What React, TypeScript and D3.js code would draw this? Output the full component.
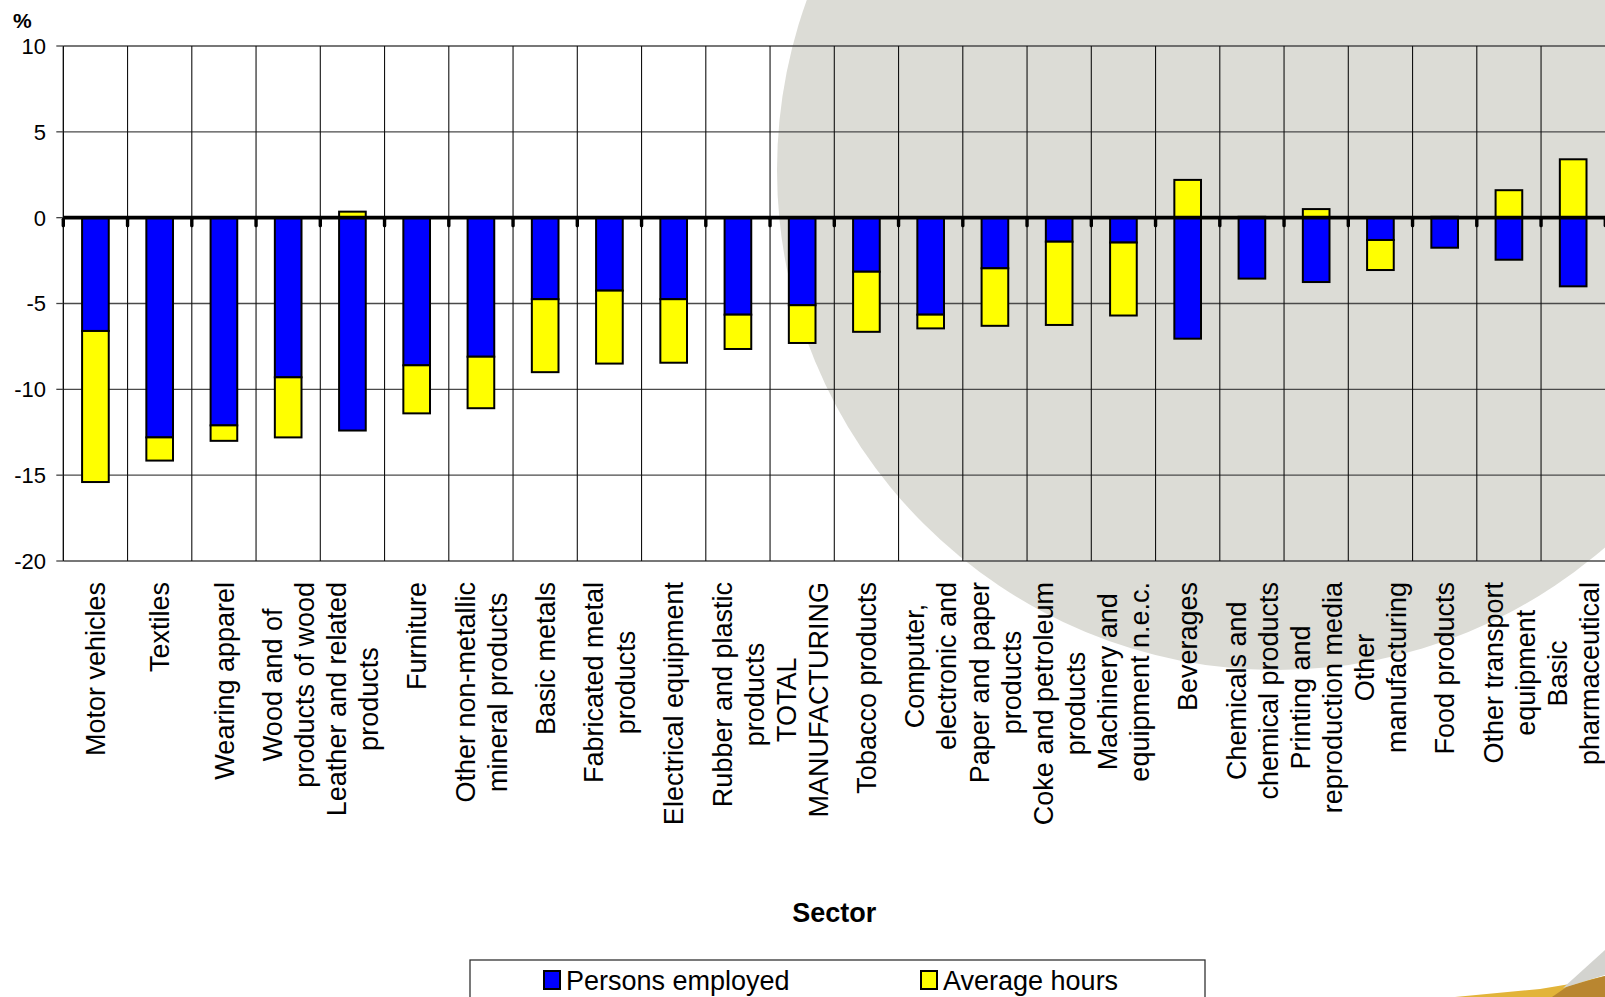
import React, { useEffect, useRef } from "react";
import * as d3 from "d3";

// Sector labels (line breaks marked with "|")
const sectors: string[] = [
  "Motor vehicles",
  "Textiles",
  "Wearing apparel",
  "Wood and of|products of wood",
  "Leather and related|products",
  "Furniture",
  "Other non-metallic|mineral products",
  "Basic metals",
  "Fabricated metal|products",
  "Electrical equipment",
  "Rubber and plastic|products",
  "TOTAL|MANUFACTURING",
  "Tobacco products",
  "Computer,|electronic and",
  "Paper and paper|products",
  "Coke and petroleum|products",
  "Machinery and|equipment n.e.c.",
  "Beverages",
  "Chemicals and|chemical products",
  "Printing and|reproduction media",
  "Other|manufacturing",
  "Food products",
  "Other transport|equipment",
  "Basic|pharmaceutical",
];

// Percentage change, persons employed
const personsEmployed: number[] = [
  -6.6, -12.8, -12.1, -9.3, -12.4, -8.6, -8.1, -4.75, -4.25, -4.75, -5.65, -5.1,
  -3.15, -5.65, -2.95, -1.4, -1.45, -7.05, -3.55, -3.75, -1.3, -1.75, -2.45, -4.0,
];

// Percentage change, average hours
const averageHours: number[] = [
  -8.8, -1.35, -0.9, -3.5, 0.35, -2.8, -3.0, -4.25, -4.25, -3.7, -2.0, -2.2,
  -3.5, -0.8, -3.35, -4.85, -4.25, 2.2, 0.05, 0.5, -1.75, 0.05, 1.6, 3.4,
];

const yTicks: number[] = [10, 5, 0, -5, -10, -15, -20];

const seriesNames = ["Persons employed", "Average hours"];
const seriesColors = ["#0000ff", "#ffff00"];

const W = 1605;
const H = 997;
const FONT = "'Liberation Sans', Arial, sans-serif";

export default function App() {
  const ref = useRef<SVGSVGElement | null>(null);

  useEffect(() => {
    const svg = d3.select(ref.current);
    svg.selectAll("*").remove();

    const plot = { left: 63.3, right: 1605.3, top: 46, bottom: 561 };

    const x = d3
      .scaleBand<string>()
      .domain(sectors)
      .range([plot.left, plot.right])
      .padding(0);
    const y = d3.scaleLinear().domain([-20, 10]).range([plot.bottom, plot.top]);
    const bw = x.bandwidth();
    const barW = bw * 0.415;

    // decorative background
    svg
      .append("circle")
      .attr("cx", 1277)
      .attr("cy", 170)
      .attr("r", 500)
      .attr("fill", "#dcdcd6");

    const deco = svg.append("g");
    deco
      .append("polygon")
      .attr("points", "1455,997 1540,989 1570,984 1605,976 1605,997")
      .attr("fill", "#e2b43a");
    deco
      .append("polygon")
      .attr("points", "1552,997 1568,986 1605,976 1605,997")
      .attr("fill", "#b98630");
    deco
      .append("polygon")
      .attr("points", "1563,988 1605,950 1605,975")
      .attr("fill", "#d3d3cf");

    // horizontal gridlines
    svg
      .append("g")
      .selectAll("line")
      .data(yTicks.filter((t) => t !== 0))
      .join("line")
      .attr("x1", plot.left)
      .attr("x2", plot.right)
      .attr("y1", (d) => y(d))
      .attr("y2", (d) => y(d))
      .attr("stroke", "#4a4a4a")
      .attr("stroke-width", 1.3);

    // vertical gridlines at category boundaries
    svg
      .append("g")
      .selectAll("line")
      .data(sectors.slice(1))
      .join("line")
      .attr("x1", (d) => x(d)!)
      .attr("x2", (d) => x(d)!)
      .attr("y1", plot.top)
      .attr("y2", plot.bottom)
      .attr("stroke", "#111")
      .attr("stroke-width", 1.1);

    // y axis line + ticks
    svg
      .append("line")
      .attr("x1", plot.left)
      .attr("x2", plot.left)
      .attr("y1", plot.top)
      .attr("y2", plot.bottom)
      .attr("stroke", "#000")
      .attr("stroke-width", 1.3);
    const yAxis = svg.append("g");
    yAxis
      .selectAll("line")
      .data(yTicks)
      .join("line")
      .attr("x1", plot.left - 7)
      .attr("x2", plot.left)
      .attr("y1", (d) => y(d))
      .attr("y2", (d) => y(d))
      .attr("stroke", "#444")
      .attr("stroke-width", 1.3);
    yAxis
      .selectAll("text")
      .data(yTicks)
      .join("text")
      .attr("x", 46)
      .attr("y", (d) => y(d))
      .attr("dy", "0.36em")
      .attr("text-anchor", "end")
      .attr("font-family", FONT)
      .attr("font-size", 22)
      .attr("fill", "#000")
      .text((d) => String(d));

    // stacked bars
    const rows = sectors.map((s, i) => ({
      sector: s,
      pe: personsEmployed[i],
      ah: averageHours[i],
    }));
    const stack = d3
      .stack<any>()
      .keys(["pe", "ah"])
      .offset(d3.stackOffsetDiverging);
    const layers = stack(rows);

    svg
      .append("g")
      .selectAll("g")
      .data(layers)
      .join("g")
      .attr("fill", (_, i) => seriesColors[i])
      .selectAll("rect")
      .data((d) => d)
      .join("rect")
      .attr("x", (d: any) => x(d.data.sector)! + (bw - barW) / 2)
      .attr("width", barW)
      .attr("y", (d: any) => y(Math.max(d[0], d[1])))
      .attr("height", (d: any) => Math.abs(y(d[0]) - y(d[1])))
      .attr("stroke", "#000")
      .attr("stroke-width", 2);

    // zero axis with category tick marks
    svg
      .append("line")
      .attr("x1", plot.left)
      .attr("x2", plot.right)
      .attr("y1", y(0))
      .attr("y2", y(0))
      .attr("stroke", "#000")
      .attr("stroke-width", 3.6);
    const bounds = sectors.map((s) => x(s)!).concat([plot.right]);
    svg
      .append("g")
      .selectAll("rect")
      .data(bounds)
      .join("rect")
      .attr("x", (d) => d - 1.7)
      .attr("y", y(0))
      .attr("width", 3.4)
      .attr("height", 9.5)
      .attr("rx", 1.5)
      .attr("fill", "#000");

    // category labels, rotated, lines centred within block
    const lineGap = 32;
    const labelTop = 582;
    const lg = svg.append("g");
    sectors.forEach((s) => {
      const lines = s.split("|");
      const cx = x(s)! + bw / 2;
      const g = lg.append("g");
      const texts = lines.map((ln) =>
        g
          .append("text")
          .attr("font-family", FONT)
          .attr("font-size", 27)
          .attr("fill", "#000")
          .attr("text-anchor", "middle")
          .attr("dy", "0.36em")
          .text(ln)
      );
      const lens = texts.map((t) => (t.node() as SVGTextElement).getComputedTextLength());
      const maxLen = d3.max(lens) || 0;
      texts.forEach((t, i) => {
        const lx = cx + (i - (lines.length - 1) / 2) * lineGap;
        const ly = labelTop + maxLen / 2;
        t.attr("transform", `translate(${lx},${ly}) rotate(-90)`);
      });
    });

    // axis titles
    svg
      .append("text")
      .attr("x", 13)
      .attr("y", 28)
      .attr("font-family", FONT)
      .attr("font-size", 21)
      .attr("font-weight", "bold")
      .text("%");
    svg
      .append("text")
      .attr("x", (plot.left + plot.right) / 2)
      .attr("y", 922)
      .attr("text-anchor", "middle")
      .attr("font-family", FONT)
      .attr("font-size", 27)
      .attr("font-weight", "bold")
      .text("Sector");

    // legend
    const leg = svg.append("g");
    leg
      .append("rect")
      .attr("x", 470)
      .attr("y", 960)
      .attr("width", 735)
      .attr("height", 60)
      .attr("fill", "#fff")
      .attr("stroke", "#333")
      .attr("stroke-width", 1.3);
    const legX = [544, 921];
    seriesNames.forEach((name, i) => {
      leg
        .append("rect")
        .attr("x", legX[i])
        .attr("y", 971)
        .attr("width", 16)
        .attr("height", 18)
        .attr("fill", seriesColors[i])
        .attr("stroke", "#000")
        .attr("stroke-width", 2);
      leg
        .append("text")
        .attr("x", legX[i] + 22)
        .attr("y", 990)
        .attr("font-family", FONT)
        .attr("font-size", 27)
        .attr("fill", "#000")
        .text(name);
    });
  }, []);

  return (
    <div style={{ position: "absolute", left: 0, top: 0, width: W, height: H, overflow: "hidden", background: "#fff" }}>
      <svg ref={ref} width={W} height={H} style={{ display: "block" }} />
    </div>
  );
}
